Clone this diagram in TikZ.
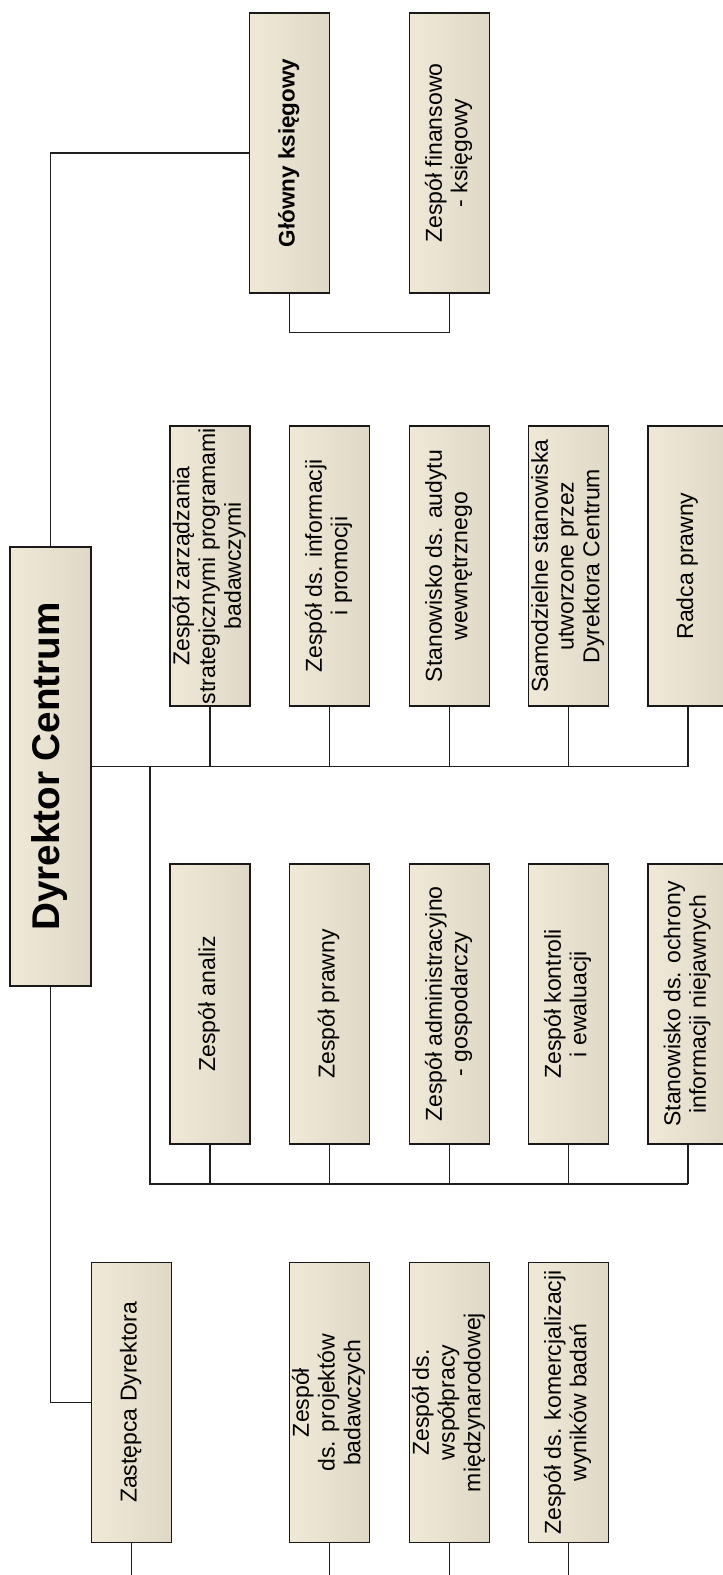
\documentclass[tikz,border=0pt]{standalone}
\usepackage{fontspec}
\setmainfont{Liberation Sans}
\usepackage{graphicx}
\usetikzlibrary{calc}
\newcommand{\vlabel}[1]{\rotatebox{90}{\begin{tabular}{@{}c@{}}#1\end{tabular}}}
\definecolor{boxl}{RGB}{241,233,216}
\definecolor{boxr}{RGB}{223,216,198}
\begin{document}
\begin{tikzpicture}[x=0.02cm,y=-0.02cm,
  unit/.style={draw=black!90,line width=0.85pt,left color=boxl,right color=boxr,
    minimum width=1.6cm,minimum height=5.6cm,inner sep=0pt,
    font=\fontsize{13.1}{14.6}\selectfont},
  link/.style={draw=black!88,line width=0.75pt}]
\useasboundingbox (0,0) rectangle (723,1575);
\clip (0,0) rectangle (723,1575);
\node [unit,minimum width=1.62cm,minimum height=8.78cm,font=\bfseries\fontsize{22}{26}\selectfont] (dyr) at (50.5,766.5) {\vlabel{Dyrektor Centrum}};
\node [unit,font=\bfseries\fontsize{12.8}{14.5}\selectfont] (glowny) at (289.5,153) {\vlabel{Główny księgowy}};
\node [unit] (finans) at (449.5,153) {\vlabel{Zespół finansowo\\- księgowy}};
\node [unit] (zzs) at (210,566) {\vlabel{Zespół zarządzania\\strategicznymi programami\\badawczymi}};
\node [unit] (info) at (329.5,566) {\vlabel{Zespół ds. informacji\\i promocji}};
\node [unit] (audyt) at (449.5,566) {\vlabel{Stanowisko ds. audytu\\wewnętrznego}};
\node [unit] (samo) at (568.5,566) {\vlabel{Samodzielne stanowiska\\utworzone przez\\Dyrektora Centrum}};
\node [unit] (radca) at (688,566) {\vlabel{Radca prawny}};
\node [unit] (analiz) at (210,1004) {\vlabel{Zespół analiz}};
\node [unit] (prawny) at (329.5,1004) {\vlabel{Zespół prawny}};
\node [unit] (admin) at (449.5,1004) {\vlabel{Zespół administracyjno\\- gospodarczy}};
\node [unit] (kontrola) at (568.5,1004) {\vlabel{Zespół kontroli\\i ewaluacji}};
\node [unit] (ochrona) at (688,1004) {\vlabel{Stanowisko ds. ochrony\\informacji niejawnych}};
\node [unit] (zast) at (131.5,1402.5) {\vlabel{Zastępca Dyrektora}};
\node [unit] (projekty) at (329.5,1402.5) {\vlabel{Zespół\\ds. projektów\\badawczych}};
\node [unit] (wspolpraca) at (449.5,1402.5) {\vlabel{Zespół ds.\\współpracy\\międzynarodowej}};
\node [unit] (komerc) at (568.5,1402.5) {\vlabel{Zespół ds. komercjalizacji\\wyników badań}};
\coordinate (bus) at (150,766.5);
\coordinate (lbus) at (150,1184);
\coordinate (cut) at (0,1580);
\draw [link] (dyr.north) |- (glowny.west);
\draw [link] (glowny.south) -- ++(0,39) -| (finans.south);
\draw [link] (dyr.east) -- (dyr.east -| radca.south);
\foreach \n in {zzs,info,audyt,samo,radca}
  \draw [link] (\n.south) -- (\n.south |- dyr.east);
\draw [link] (bus) -- (lbus) -- (lbus -| ochrona.south);
\foreach \n in {analiz,prawny,admin,kontrola,ochrona}
  \draw [link] (\n.south) -- (\n.south |- lbus);
\draw [link] (dyr.south) |- (zast.west);
\foreach \n in {zast,projekty,wspolpraca,komerc}
  \draw [link] (\n.south) -- (\n.south |- cut);
\end{tikzpicture}
\end{document}
